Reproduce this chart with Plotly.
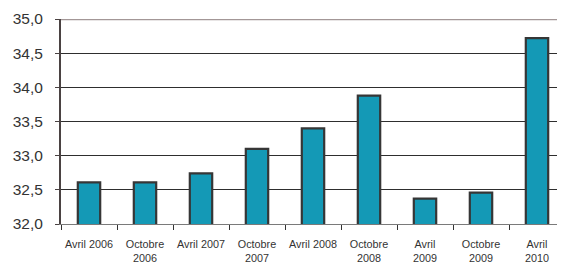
import plotly.graph_objects as go

categories = ["Avril 2006", "Octobre<br>2006", "Avril 2007", "Octobre<br>2007", "Avril 2008",
              "Octobre<br>2008", "Avril<br>2009", "Octobre<br>2009", "Avril<br>2010"]
values = [32.61, 32.61, 32.74, 33.10, 33.40, 33.88, 32.37, 32.46, 34.72]
y_ticks = [32.0, 32.5, 33.0, 33.5, 34.0, 34.5, 35.0]

fig = go.Figure(go.Bar(
    x=categories, y=values, width=0.40,
    marker=dict(color="#1499b6", line=dict(color="#363636", width=2.2)),
))

# page body has an 8px default margin, so the figure is offset by 8px
fig.update_layout(
    width=557, height=258,
    margin=dict(l=53, r=0, t=11, b=42, autoexpand=False),
    paper_bgcolor="white", plot_bgcolor="white",
    separators=", ",
    showlegend=False,
    font=dict(family="Liberation Sans, Arial, sans-serif", color="#333333"),
)
fig.update_yaxes(
    range=[32, 35], tickvals=y_ticks, tickformat=".1f", automargin=False,
    showgrid=True, gridcolor="#2e2e2e", gridwidth=1,
    showline=True, linecolor="#4a4242", linewidth=2,
    ticks="outside", ticklen=4, tickcolor="#4a4242", tickwidth=1,
    tickfont=dict(size=15.5, color="#333333"), ticklabelstandoff=9,
    zeroline=False,
)
fig.update_xaxes(
    type="category", tickson="boundaries", automargin=False,
    showline=True, linecolor="#7a7a7a", linewidth=1,
    ticks="outside", ticklen=5, tickcolor="#333333", tickwidth=1,
    tickfont=dict(size=10.8, color="#333333"), tickangle=0,
    ticklabelstandoff=10,
)
fig.add_shape(type="line", xref="paper", yref="y", x0=0, x1=1, y0=35, y1=35,
              line=dict(color="#a39797", width=2.5))

fig.write_html("out.html")
